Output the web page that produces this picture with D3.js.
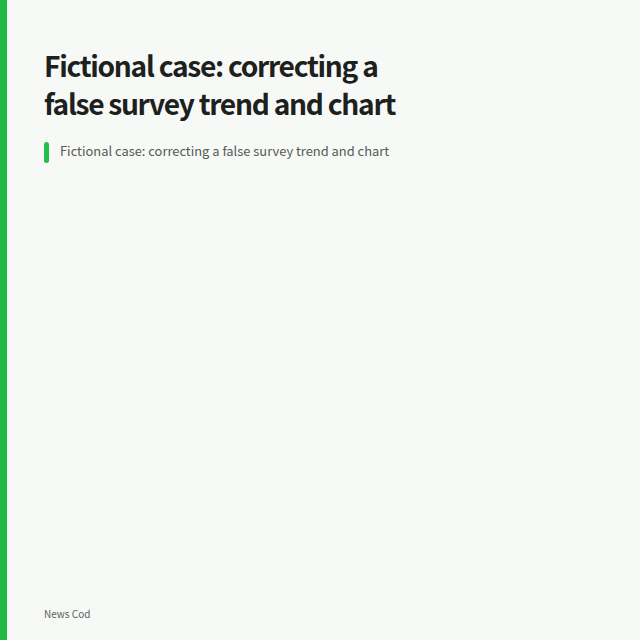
<!DOCTYPE html>
<html>
<head>
<meta charset="utf-8">
<script src="https://cdn.jsdelivr.net/npm/d3@7/dist/d3.min.js"></script>
<style>
  html, body { margin: 0; padding: 0; background: #f7f9f6; }
  svg { display: block; }
</style>
</head>
<body>
<svg id="chart" width="640" height="640"></svg>
<script>
// Data (the reference chart shows no plotted values)
const categories = [];
const seriesValues = [];
const tickLabels = [];
const titleLines = ["Fictional case: correcting a", "false survey trend and chart"];
const subtitle = "Fictional case: correcting a false survey trend and chart";
const footer = "News Cod";

const W = 640, H = 640;
const font = "'Noto Sans CJK SC', 'Noto Sans', sans-serif";
const svg = d3.select("#chart");

svg.append("rect").attr("width", W).attr("height", H).attr("fill", "#f7f9f6");
svg.append("rect").attr("x", 0).attr("y", 0).attr("width", 7).attr("height", H).attr("fill", "#1fb943");

// Title
svg.append("g").selectAll("text").data(titleLines).join("text")
  .attr("x", 44)
  .attr("y", (d, i) => 77 + i * 37.5)
  .attr("font-family", font)
  .attr("font-size", 28.2)
  .attr("font-weight", 700)
  .attr("letter-spacing", -1.3)
  .attr("fill", "#1d211d")
  .text(d => d);

// Subtitle with accent bar
svg.append("rect").attr("x", 44).attr("y", 142).attr("width", 5).attr("height", 21).attr("rx", 2.5).attr("fill", "#22c04b");
svg.append("text")
  .attr("x", 60).attr("y", 156)
  .attr("font-family", font)
  .attr("font-size", 12.9)
  .attr("fill", "#555a55")
  .text(subtitle);

// Plot area (empty data)
const plot = svg.append("g").attr("transform", "translate(44,190)");
const x = d3.scaleBand().domain(categories).range([0, 560]);
const y = d3.scaleLinear().domain([0, 1]).range([380, 0]);
plot.selectAll("rect.bar").data(seriesValues).join("rect")
  .attr("class", "bar")
  .attr("x", (d, i) => x(categories[i]))
  .attr("y", d => y(d))
  .attr("width", x.bandwidth())
  .attr("height", d => 380 - y(d));

// Footer
svg.append("text")
  .attr("x", 44).attr("y", 618)
  .attr("font-family", font)
  .attr("font-size", 10)
  .attr("fill", "#5d615d")
  .text(footer);
</script>
</body>
</html>
